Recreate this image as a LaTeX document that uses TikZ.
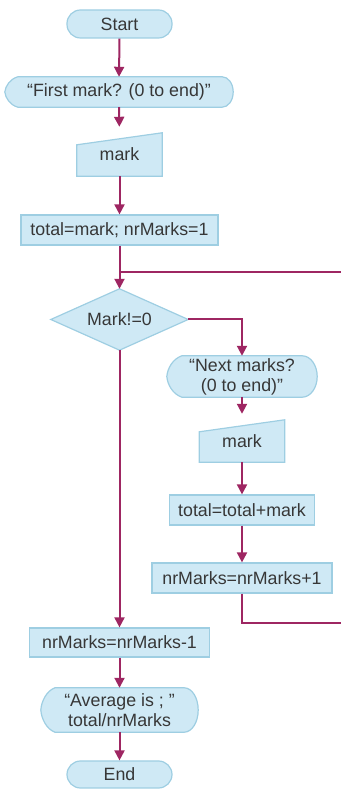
\documentclass[tikz,border=0pt]{standalone}
\usepackage{fontspec}
\setmainfont{Liberation Sans}
\usetikzlibrary{arrows.meta,calc}
\definecolor{fillc}{RGB}{207,233,245}
\definecolor{linec}{RGB}{158,206,226}
\definecolor{arrc}{RGB}{158,38,98}
\definecolor{txtc}{RGB}{55,55,55}
\pgfdeclarelayer{bg}
\pgfsetlayers{bg,main}
\tikzset{
 base/.style={font=\fontsize{17.8}{20}\selectfont, text=txtc, inner sep=0pt, align=center},
 procbox/.style={base, draw=linec, fill=fillc, line width=1.2pt},
 termbox/.style={procbox, rounded corners=13.5pt},
 shapefill/.style={draw=linec, fill=fillc, line width=1.2pt},
 flow/.style={draw=arrc, line width=2pt, -{Triangle[width=10pt,length=10pt]}},
 loopline/.style={draw=arrc, line width=2pt},
}
\newcommand\manshape[2]{\path[shapefill] let \p1=(#1.south west), \p2=(#1.north east) in (\x1,\y1) -- (\x1,\y2-#2) -- (\x2,\y2) -- (\x2,\y1) -- cycle;}
\newcommand\dispshape[3]{\path[shapefill] let \p1=(#1.south west), \p2=(#1.north east), \n1={(\y2-\y1)/2} in (\x1+#2,\y2) -- (\x2-#3,\y2) arc[start angle=90,end angle=-90,x radius=#3pt,y radius=\n1] -- (\x1+#2,\y1) .. controls (\x1+0.4*#2,\y1+0.15*\n1) and (\x1+0.05*#2,\y1+0.6*\n1) .. (\x1,\y1+\n1) .. controls (\x1+0.05*#2,\y1+1.4*\n1) and (\x1+0.4*#2,\y2-0.15*\n1) .. cycle;}
\begin{document}
\begin{tikzpicture}[x=1pt,y=1pt]
\useasboundingbox (0,0) rectangle (340,789);
% main column
\node[termbox, minimum width=105pt, minimum height=28pt] (start) at (119.5,765) {Start};
\node[base, minimum width=228pt, minimum height=30pt] (disp1) at (119,697) {“First mark? (0 to end)”};
\node[base, minimum width=85pt, minimum height=43pt] (in1) at (119.5,634.5) {\raisebox{-6pt}{mark}};
\node[procbox, minimum width=197pt, minimum height=30pt] (p1) at (119.5,559) {total=mark; nrMarks=1};
\coordinate (join) at (119.5,517);
\node[base, minimum width=137pt, minimum height=61pt] (dec) at (119.5,469.5) {Mark!=0};
% right column
\node[base, minimum width=150pt, minimum height=41pt] (disp2) at (242,412.5) {“Next marks?\\(0 to end)”};
\node[base, minimum width=85pt, minimum height=42pt] (in2) at (242,348) {\raisebox{-6pt}{mark}};
\node[procbox, minimum width=145pt, minimum height=30pt] (p2) at (242,279) {total=total+mark};
\node[procbox, minimum width=180pt, minimum height=30pt] (p3) at (242,211) {nrMarks=nrMarks+1};
\coordinate (loopc) at (242,166);
\coordinate (loopr) at (352,166);
\coordinate (loopt) at (352,517);
% bottom
\node[procbox, minimum width=180pt, minimum height=29pt] (p4) at (119.5,146.5) {nrMarks=nrMarks-1};
\node[base, minimum width=157pt, minimum height=44pt] (disp3) at (119.5,79) {“Average is ; ”\\total/nrMarks};
\node[termbox, minimum width=105pt, minimum height=27pt] (end) at (119.5,14.5) {End};
% custom outlines
\begin{pgfonlayer}{bg}
\dispshape{disp1}{13}{11}
\manshape{in1}{12}
\path[shapefill] (dec.west) -- (dec.north) -- (dec.east) -- (dec.south) -- cycle;
\dispshape{disp2}{15}{15}
\manshape{in2}{12}
\dispshape{disp3}{14}{14}
\end{pgfonlayer}
% connectors
\draw[flow] (start.south) -- (disp1.north);
\draw[flow, shorten >=6pt] (disp1.south) -- (in1.north);
\draw[flow] (in1.south) -- (p1.north);
\draw[flow] (p1.south) -- (dec.north);
\draw[flow] (dec.east) -| (disp2.north);
\draw[flow, shorten >=6pt] (disp2.south) -- (in2.north);
\draw[flow] (in2.south) -- (p2.north);
\draw[flow] (p2.south) -- (p3.north);
\draw[loopline] (p3.south) -- (loopc) -- (loopr) -- (loopt) -- (join);
\draw[flow] (dec.south) -- (p4.north);
\draw[flow] (p4.south) -- (disp3.north);
\draw[flow] (disp3.south) -- (end.north);
\end{tikzpicture}
\end{document}
